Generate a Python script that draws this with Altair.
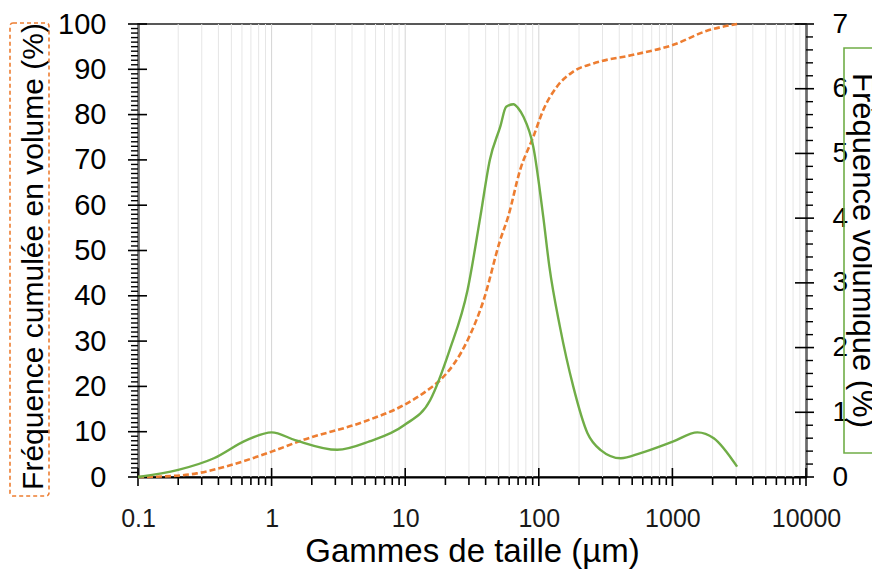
import altair as alt
import pandas as pd

# Green series: volume frequency (%) (right axis)
GREEN_X = [0.1, 0.2, 0.37, 0.65, 1.0, 1.5, 3.1, 5.4, 9.8, 15.4, 21.5, 29.3, 36.5, 43, 51.4, 57,
           64.7, 70, 76.6, 91, 108, 120, 144, 181, 231, 289, 411, 578, 1017, 1538, 2040, 3050]
GREEN_Y = [0, 0.11, 0.29, 0.57, 0.69, 0.57, 0.42, 0.55, 0.80, 1.19, 1.96, 2.89, 4.02, 4.9, 5.41, 5.72,
           5.76, 5.70, 5.57, 5.1, 4.02, 3.25, 2.32, 1.40, 0.68, 0.42, 0.29, 0.37, 0.55, 0.69, 0.60, 0.16]

# Orange series: cumulative volume frequency (%) (left axis)
ORANGE_X = [0.1, 0.15, 0.275, 0.49, 1.0, 1.73, 4.9, 9.8, 15.4, 18.3, 29.3, 38.6, 51.4, 59, 72.5,
            91, 108, 137, 181, 256, 510, 1017, 1815, 3050]
ORANGE_Y = [0, 0.1, 0.8, 2.6, 5.6, 8.2, 12.2, 15.9, 19.6, 21.4, 30.2, 39, 52.3, 57.5, 67.8,
            75.1, 81, 86.2, 89.5, 91.3, 93.2, 95.4, 98.5, 100]

X_MAJOR = [0.1, 1, 10, 100, 1000, 10000]
X_MINOR = [round(m * 10 ** k, 6) for k in range(-1, 4) for m in range(2, 10)]
Y_LEFT_MAJOR = list(range(0, 101, 10))
Y_LEFT_MINOR = [v for v in range(101) if v % 10]
Y_RIGHT_MAJOR = list(range(8))
Y_RIGHT_MINOR = [round(i * 0.2, 1) for i in range(36) if i % 5]

W, H = 668, 453
FONT = "Liberation Sans"
ORANGE = "#ED7D31"
GREEN = "#70AD47"

xs = alt.Scale(type="log", domain=[0.1, 10000], nice=False)
ysl = alt.Scale(domain=[0, 100], nice=False)
ysr = alt.Scale(domain=[0, 7], nice=False)

x_axis = alt.Axis(values=X_MAJOR, format="~g", tickSize=0, tickOpacity=0, labelPadding=29,
                  labelFontSize=25, labelFont=FONT, labelColor="#1a1a1a", labelFlush=False,
                  labelOverlap=False, domainColor="black", domainWidth=2, grid=False,
                  title="Gammes de taille (µm)", titleFont=FONT, titleFontSize=33,
                  titleFontWeight="normal", titleColor="black", titleX=W / 2, titleY=84,
                  titleAlign="center", titleBaseline="alphabetic")

l_axis = alt.Axis(orient="left", values=Y_LEFT_MAJOR, tickSize=0, tickOpacity=0, labelPadding=32,
                  labelFontSize=29, labelFont=FONT, labelColor="black", domainColor="black",
                  domainWidth=2, grid=False, labelOverlap=False,
                  title="Fréquence cumulée en volume (%)", titleFont=FONT, titleFontSize=30,
                  titleFontWeight="normal", titleColor="black", titleAngle=270,
                  titleX=-96, titleY=232, titleAlign="center", titleBaseline="alphabetic")

r_axis = alt.Axis(orient="right", values=Y_RIGHT_MAJOR, tickSize=0, tickOpacity=0, labelPadding=26,
                  labelFontSize=28, labelFont=FONT, labelColor="black", domainColor="black",
                  domainWidth=2, grid=False, labelOverlap=False,
                  title="Fréquence volumique (%)", titleFont=FONT, titleFontSize=31,
                  titleFontWeight="normal", titleColor="black", titleAngle=90,
                  titleX=46, titleY=226, titleAlign="center", titleBaseline="alphabetic")


def X(field="x"):
    return alt.X(f"{field}:Q", scale=xs, axis=x_axis)


df_xminor = pd.DataFrame({"x": X_MINOR})
df_xmajor = pd.DataFrame({"x": X_MAJOR})

grid_minor = alt.Chart(df_xminor).mark_rule(color="#e6e6e6", strokeWidth=1).encode(x=X())
grid_major = alt.Chart(df_xmajor).mark_rule(color="#d4d4d4", strokeWidth=1).encode(x=X())
xt_minor = alt.Chart(df_xminor).mark_rule(color="black", strokeWidth=1.6).encode(
    x=X(), y=alt.value(H), y2=alt.value(H + 8))
xt_major = alt.Chart(df_xmajor).mark_rule(color="black", strokeWidth=1.6).encode(
    x=X(), y=alt.value(H - 9), y2=alt.value(H + 9))

yl_minor = alt.Chart(pd.DataFrame({"v": Y_LEFT_MINOR})).mark_rule(color="black", strokeWidth=1.4).encode(
    y=alt.Y("v:Q", scale=ysl, axis=None), x=alt.value(-7), x2=alt.value(0))
yl_major = alt.Chart(pd.DataFrame({"v": Y_LEFT_MAJOR})).mark_rule(color="black", strokeWidth=1.6).encode(
    y=alt.Y("v:Q", scale=ysl, axis=None), x=alt.value(-10), x2=alt.value(9))

orange = alt.Chart(pd.DataFrame({"x": ORANGE_X, "y": ORANGE_Y})).mark_line(
    color=ORANGE, strokeWidth=2.6, strokeDash=[6, 3], interpolate="monotone").encode(
    x=X(), y=alt.Y("y:Q", scale=ysl, axis=l_axis))

lbox = alt.Chart(pd.DataFrame({"a": [0]})).mark_rect(
    fill="white", fillOpacity=0, stroke=ORANGE, strokeWidth=1.6, strokeDash=[4, 3], cornerRadius=3).encode(
    x=alt.value(-128), x2=alt.value(-89), y=alt.value(-1), y2=alt.value(472))

yr_minor = alt.Chart(pd.DataFrame({"v": Y_RIGHT_MINOR})).mark_rule(color="black", strokeWidth=1.4).encode(
    y=alt.Y("v:Q", scale=ysr, axis=None), x=alt.value(W), x2=alt.value(W + 7))
yr_major = alt.Chart(pd.DataFrame({"v": Y_RIGHT_MAJOR})).mark_rule(color="black", strokeWidth=1.6).encode(
    y=alt.Y("v:Q", scale=ysr, axis=None), x=alt.value(W - 11), x2=alt.value(W + 8))

green = alt.Chart(pd.DataFrame({"x": GREEN_X, "y": GREEN_Y})).mark_line(
    color=GREEN, strokeWidth=2.4, interpolate="monotone").encode(
    x=X(), y=alt.Y("y:Q", scale=ysr, axis=r_axis))

rbox = alt.Chart(pd.DataFrame({"a": [0]})).mark_rect(
    fill="white", fillOpacity=0, stroke=GREEN, strokeWidth=1.6).encode(
    x=alt.value(W + 38), x2=alt.value(W + 84), y=alt.value(24), y2=alt.value(H - 24))

chart = alt.layer(
    grid_minor, grid_major, xt_minor, xt_major, yl_minor, yl_major, lbox,
    yr_minor, yr_major, rbox, orange, green
).resolve_scale(y="independent").properties(
    width=W, height=H,
    padding={"left": 130, "top": 16, "right": 66, "bottom": 92},
    autosize=alt.AutoSizeParams(type="none"),
).configure_view(stroke="#222222", strokeWidth=1.5)

chart.save("out.html", embed_options={"renderer": "svg", "actions": False})
